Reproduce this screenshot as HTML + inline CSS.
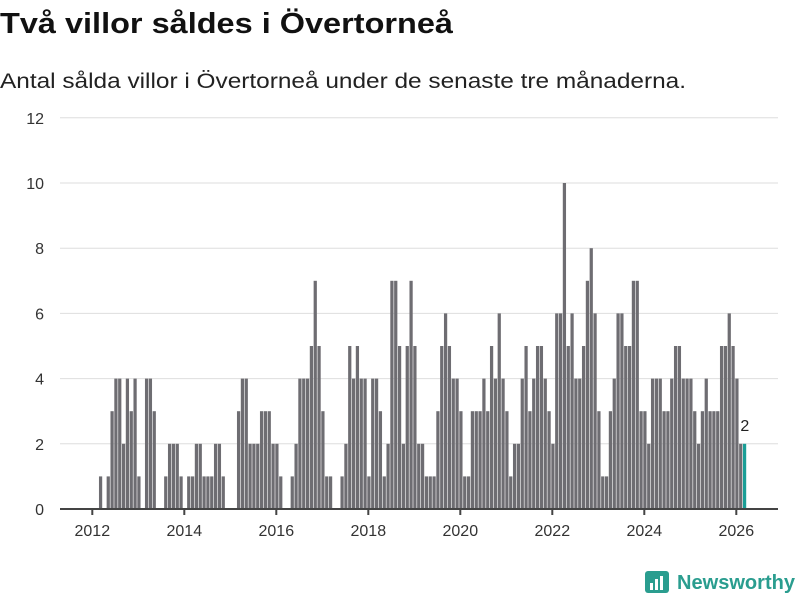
<!DOCTYPE html>
<html><head><meta charset="utf-8"><style>
body{margin:0;background:#fff;width:800px;height:600px;overflow:hidden;font-family:"Liberation Sans",sans-serif}
</style></head><body>
<svg id="chart" width="800" height="600" xmlns="http://www.w3.org/2000/svg" font-family="Liberation Sans, sans-serif">
<text x="0" y="33" font-size="29" font-weight="bold" fill="#111" textLength="453" lengthAdjust="spacingAndGlyphs">Två villor såldes i Övertorneå</text>
<text x="0" y="88" font-size="21" fill="#222" textLength="686" lengthAdjust="spacingAndGlyphs">Antal sålda villor i Övertorneå under de senaste tre månaderna.</text>
<g id="grid"></g>
<g id="bars"></g>
<g id="axes"></g>
<g>
<rect x="645" y="571" width="24" height="22" rx="3" fill="#2a9d8f"/>
<rect x="650" y="583" width="3" height="7" fill="#fff"/>
<rect x="655" y="579" width="3" height="11" fill="#fff"/>
<rect x="660" y="576" width="3" height="14" fill="#fff"/>
<text x="677" y="589" font-size="20" font-weight="bold" fill="#2a9d8f" textLength="118" lengthAdjust="spacingAndGlyphs">Newsworthy</text>
</g>
</svg>
<script>
const startYear = 2012, startMonth = 2; // first bar = March 2012 (0-based month)
const values = [1,0,1,3,4,4,2,4,3,4,1,0,4,4,3,0,0,1,2,2,2,1,0,1,1,2,2,1,1,1,2,2,1,0,0,0,
3,4,4,2,2,2,3,3,3,2,2,1,0,0,1,2,4,4,4,5,7,5,3,1,1,0,0,1,2,5,4,5,4,4,1,4,4,3,
1,2,7,7,5,2,5,7,5,2,2,1,1,1,3,5,6,5,4,4,3,1,1,3,3,3,4,3,5,4,6,4,3,1,2,2,4,5,
3,4,5,5,4,3,2,6,6,10,5,6,4,4,5,7,8,6,3,1,1,3,4,6,6,5,5,7,7,3,3,2,
4,4,4,3,3,4,5,5,4,4,4,3,2,3,4,3,3,3,5,5,6,5,4,2,2];
const yTicks = [0,2,4,6,8,10,12];
const xTicks = [2012,2014,2016,2018,2020,2022,2024,2026];

const NS = "http://www.w3.org/2000/svg";
const x0 = 92.3, pxYear = 46.0;
const xs = t => x0 + (t - 2012) * pxYear;
const y0 = 509, pxUnit = 32.6;
const ys = v => y0 - v * pxUnit;
function mk(tag, attrs, parent){const e=document.createElementNS(NS,tag);for(const k in attrs)e.setAttribute(k,attrs[k]);parent.appendChild(e);return e;}
const grid=document.getElementById('grid'), bars=document.getElementById('bars'), axes=document.getElementById('axes');
yTicks.forEach(v=>{
  if(v>0){const l=mk('line',{x1:60,x2:778,y1:ys(v),y2:ys(v),stroke:'#dedede','stroke-width':1},grid);
  
  }
  const t=mk('text',{x:44,y:ys(v)+6,'text-anchor':'end','font-size':16,fill:'#333'},axes);
  t.textContent=v;
  
  
});
const bw = pxYear/12;
values.forEach((v,i)=>{
  const k = startMonth + i;
  const x = xs(startYear + k/12) - 1.0;
  const last = i === values.length-1;
  const r=mk('rect',{x:x,y:ys(v),width:bw-0.6,height:v*pxUnit,fill:last?'#1a9e96':'#6e6d72'},bars);
  
  
  if(last){
    const t=mk('text',{x:x+bw/2,y:ys(v)-13,'text-anchor':'middle','font-size':16,fill:'#222',stroke:'#fff','stroke-width':3,'paint-order':'stroke'},bars);
    t.textContent=v;
    
    
  }
});
const ax=mk('line',{x1:60,x2:778,y1:y0,y2:y0,stroke:'#444','stroke-width':2},axes);


xTicks.forEach(yr=>{
  const tk=mk('line',{x1:xs(yr),x2:xs(yr),y1:y0,y2:y0+6,stroke:'#444','stroke-width':2},axes);
  
  
  const t=mk('text',{x:xs(yr),y:536,'text-anchor':'middle','font-size':16,fill:'#333'},axes);
  t.textContent=yr;
  
  
});
</script>
</body></html>
